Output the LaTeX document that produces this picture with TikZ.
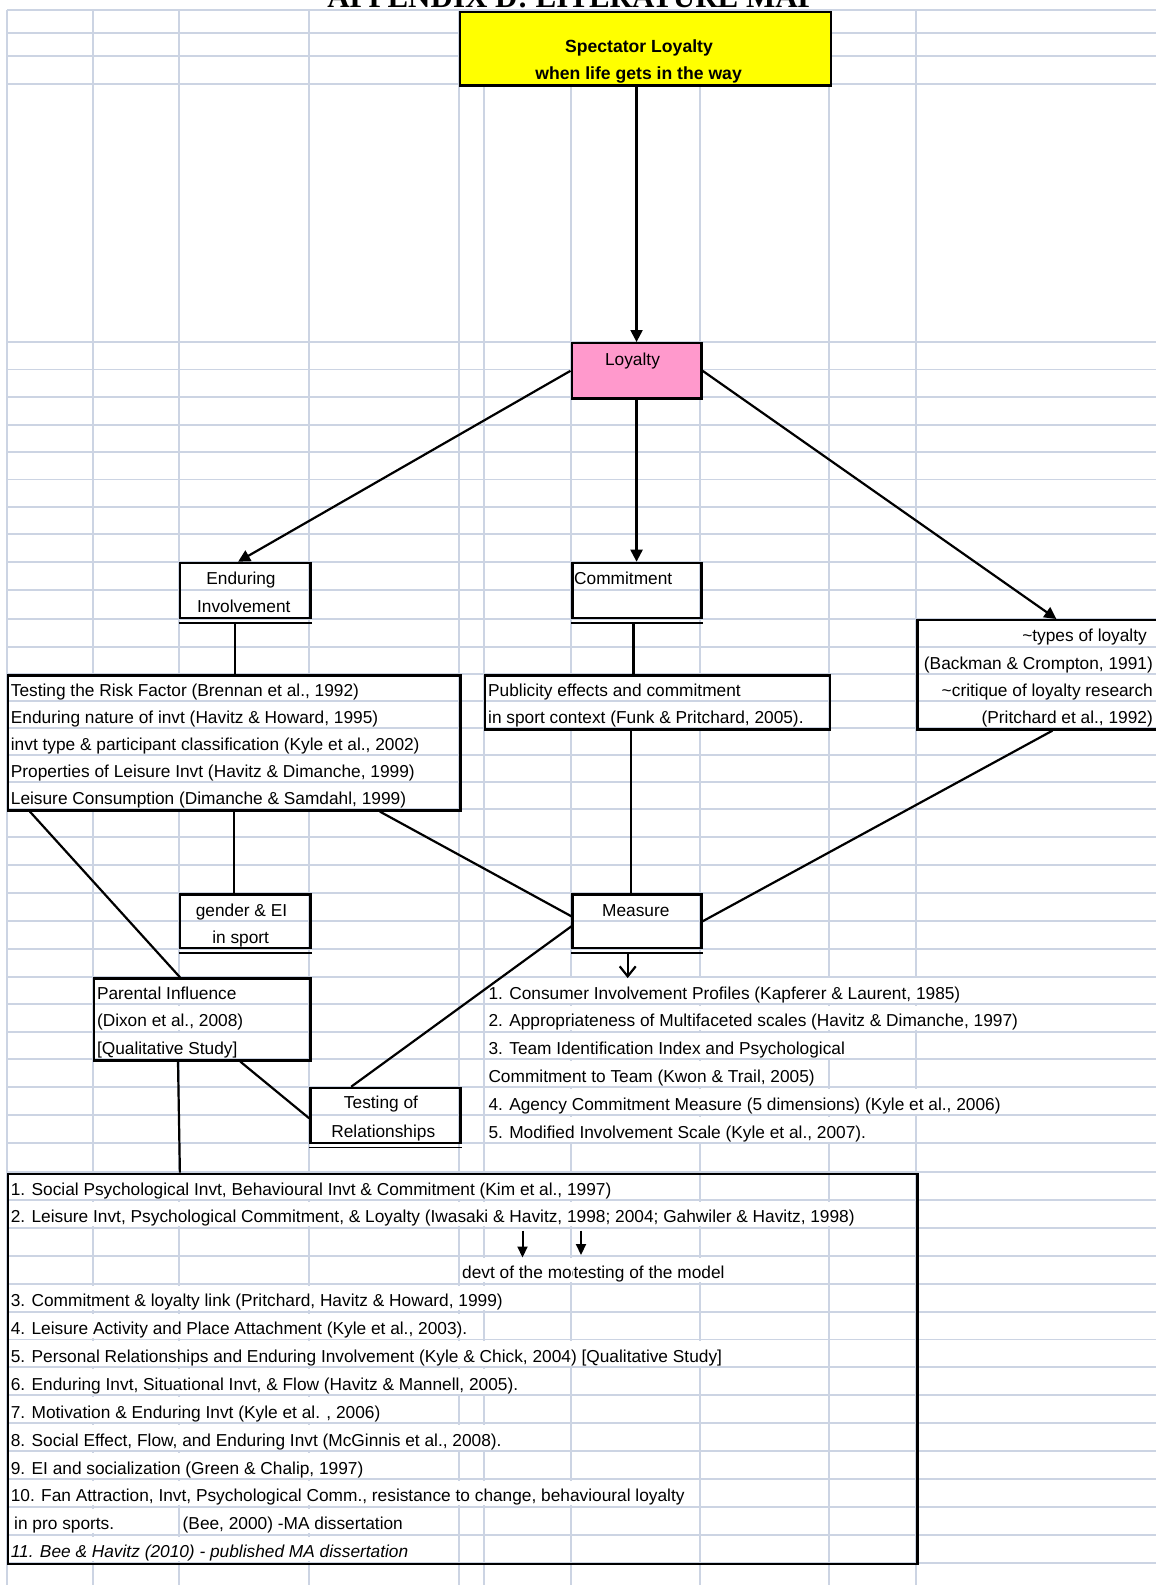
\documentclass[tikz,border=0pt]{standalone}
\usepackage{fontspec}
\setmainfont{Liberation Sans}
\newfontfamily\titlefont{Liberation Serif}
\usetikzlibrary{arrows.meta,calc}
\definecolor{gridc}{RGB}{204,212,227}
\definecolor{ybox}{RGB}{255,255,0}
\definecolor{pbox}{RGB}{255,153,204}
\begin{document}
\begin{tikzpicture}[x=1pt,y=-1pt,
  every node/.style={font=\fontsize{17.3}{20}\selectfont},
  gridl/.style={draw=gridc,line width=1.9pt},
  cell/.style={anchor=base west,fill=white,inner xsep=1pt,inner ysep=0pt,text height=21pt,text depth=3.5pt},
  rcell/.style={anchor=base east,inner xsep=1pt,inner ysep=0pt},
  ctext/.style={anchor=base,inner sep=0pt},
  box/.style={draw,line width=2.3pt,anchor=north west,inner sep=0pt},
  ln/.style={line width=2.2pt},
  arr/.style={line width=2.2pt,-{Triangle[length=12pt,width=12pt]}},
  sarr/.style={line width=2pt,-{Triangle[length=11pt,width=10pt]}},
  oarr/.style={line width=2.2pt,-{Straight Barb[length=10pt,width=16pt,line width=2.2pt]}}]
\useasboundingbox (0,0) rectangle (1156,1585);
\clip (0,0) rectangle (1156,1585);
% vertical grid lines
\foreach \x in {7,93,178.7,309.2,459.2,484.1,571.4,700.3,828.8,916.4}
  \draw[gridl] (\x,10) -- (\x,1590);
% cell texts
\node[cell] (lb1) at (9.7,696) {Testing the Risk Factor (Brennan et al., 1992)};
\node[cell] (lb2) at (9.7,723.3) {Enduring nature of invt (Havitz \& Howard, 1995)};
\node[cell] (lb3) at (9.7,750) {invt type \& participant classification (Kyle et al., 2002)};
\node[cell] (lb4) at (9.7,777.3) {Properties of Leisure Invt (Havitz \& Dimanche, 1999)};
\node[cell] (lb5) at (9.7,804.3) {Leisure Consumption (Dimanche \& Samdahl, 1999)};
\node[cell] (pu1) at (487,696) {Publicity effects and commitment};
\node[cell] (pu2) at (487,723.3) {in sport context (Funk \& Pritchard, 2005).};
\node[rcell] (ty1) at (1148,641.7) {\textasciitilde{}types of loyalty};
\node[rcell] (ty2) at (1154,669.3) {(Backman \& Crompton, 1991)};
\node[rcell] (ty3) at (1154,696) {\textasciitilde{}critique of loyalty research};
\node[rcell] (ty4) at (1154,723.3) {(Pritchard et al., 1992)};
\node[cell] (pa1) at (95.8,999.3) {Parental Influence};
\node[cell] (pa2) at (95.8,1026.7) {(Dixon et al., 2008)};
\node[cell] (pa3) at (95.8,1054.3) {[Qualitative Study]};
\node[cell] (m1) at (487.3,999.3) {1. Consumer Involvement Profiles (Kapferer \& Laurent, 1985)};
\node[cell] (m2) at (487.3,1026.7) {2. Appropriateness of Multifaceted scales (Havitz \& Dimanche, 1997)};
\node[cell] (m3) at (487.3,1054.3) {3. Team Identification Index and Psychological};
\node[cell] (m4) at (487.3,1082) {Commitment to Team (Kwon \& Trail, 2005)};
\node[cell] (m5) at (487.3,1110) {4. Agency Commitment Measure (5 dimensions) (Kyle et al., 2006)};
\node[cell] (m6) at (487.3,1138.3) {5. Modified Involvement Scale (Kyle et al., 2007).};
\node[cell] (b1) at (9.6,1195) {1. Social Psychological Invt, Behavioural Invt \& Commitment (Kim et al., 1997)};
\node[cell] (b2) at (9.6,1222.9) {2. Leisure Invt, Psychological Commitment, \& Loyalty (Iwasaki \& Havitz, 1998; 2004; Gahwiler \& Havitz, 1998)};
\begin{scope}
  \clip (455,1250) rectangle (572.3,1290);
  \node[cell] (dv) at (461,1278.7) {devt of the model};
\end{scope}
\node[cell] (tm) at (572.3,1278.7) {testing of the model};
\node[cell] (b3) at (9.6,1306.6) {3. Commitment \& loyalty link (Pritchard, Havitz \& Howard, 1999)};
\node[cell] (b4) at (9.6,1334.5) {4. Leisure Activity and Place Attachment (Kyle et al., 2003).};
\node[cell] (b5) at (9.6,1362.4) {5. Personal Relationships and Enduring Involvement (Kyle \& Chick, 2004) [Qualitative Study]};
\node[cell] (b6) at (9.6,1390.3) {6. Enduring Invt, Situational Invt, \& Flow (Havitz \& Mannell, 2005).};
\node[cell] (b7) at (9.6,1418.2) {7. Motivation \& Enduring Invt (Kyle et al. , 2006)};
\node[cell] (b8) at (9.6,1446.1) {8. Social Effect, Flow, and Enduring Invt (McGinnis et al., 2008).};
\node[cell] (b9) at (9.6,1474) {9. EI and socialization (Green \& Chalip, 1997)};
\node[cell] (b10) at (9.6,1501.9) {10. Fan Attraction, Invt, Psychological Comm., resistance to change, behavioural loyalty};
\node[cell] (b11a) at (13,1529.8) {in pro sports.};
\node[cell] (b11b) at (181.5,1529.8) {(Bee, 2000) -MA dissertation};
\node[cell,font=\fontsize{17.3}{20}\selectfont\itshape] (b12) at (9.6,1557.7) {11. Bee \& Havitz (2010) - published MA dissertation};
% horizontal grid lines
\foreach \y in {10,32.7,55.7,84.3,342,369.5,397.3,424.7,452.1,479.5,506.9,534.3,561.7,590.3,619,646.7,674.3,701,728.3,755,782.3,809.3,837,865,893.3,921.3,949.3,977.3,1004.3,1031.7,1059.3,1087,1115,1143.3,1172.2,1200,1227.9,1255.8,1283.7,1311.6,1339.5,1367.4,1395.3,1423.2,1451.1,1479,1506.9,1534.8,1562.7}
  \draw[gridl] (7,\y) -- (1160,\y);
% boxes
\node[box,fill=ybox,minimum width=371pt,minimum height=73.8pt] (Y) at (458.5,10.5) {};
\node[box,fill=pbox,minimum width=129.8pt,minimum height=55.3pt] (L) at (570.5,342) {};
\node[box,minimum width=130.5pt,minimum height=55.3pt] (E) at (178.7,561.7) {};
\node[box,minimum width=128.9pt,minimum height=55.3pt] (C) at (571.4,561.7) {};
\node[box,minimum width=245pt,minimum height=109.3pt] (T) at (916.4,619) {};
\node[box,minimum width=452.3pt,minimum height=135pt] (LB) at (6.9,674.3) {};
\node[box,minimum width=344.7pt,minimum height=54pt] (P) at (484.1,674.3) {};
\node[box,minimum width=130.5pt,minimum height=53.7pt] (G) at (178.7,893.3) {};
\node[box,minimum width=128.9pt,minimum height=53.7pt] (M) at (571.4,893.3) {};
\node[box,minimum width=216.2pt,minimum height=82pt] (PI) at (93,977.3) {};
\node[box,minimum width=150pt,minimum height=55pt] (TR) at (309.2,1086.7) {};
\node[box,minimum width=909.5pt,minimum height=390.2pt] (BB) at (6.9,1172.5) {};
\foreach \n in {E,C,G,M,TR}
  \draw[line width=1.8pt] ($(\n.south west)+(0,3.4)$) -- ($(\n.south east)+(0,3.4)$);
% box texts
\node[ctext,font=\fontsize{17.6}{20}\selectfont\bfseries] (y1) at (639,52.5) {Spectator Loyalty};
\node[ctext,font=\fontsize{17.6}{20}\selectfont\bfseries] (y2) at (638.6,79.3) {when life gets in the way};
\node[ctext] (l1) at (632.5,365.3) {Loyalty};
\node[ctext] (e1t) at (241,584.3) {Enduring};
\node[ctext] (e2t) at (243.8,612.7) {Involvement};
\node[anchor=base west,inner sep=0pt] (c1t) at (574,584.3) {Commitment};
\node[ctext] (g1t) at (241.5,916.7) {gender \& EI};
\node[ctext] (g2t) at (240.7,943.3) {in sport};
\node[ctext] (mt) at (635.8,916) {Measure};
\node[ctext] (t1t) at (381,1108.7) {Testing of};
\node[ctext] (t2t) at (383.3,1137.7) {Relationships};
% connectors
\draw[arr] (Y.south -| L.north) -- (L.north);
\draw[arr] (L.west) -- ($(E.north)+(-7,0)$);
\draw[arr] (L.south) -- (L.south |- C.north);
\draw[arr] (L.east) -- ($(T.north west)+(140,0)$);
\coordinate (e1) at ($(E.south)+(-10.5,3)$);
\draw[ln] (e1) -- (e1 |- LB.north);
\coordinate (c1) at ($(C.south)+(-3.5,3)$);
\draw[ln] (c1) -- (c1 |- P.north);
\coordinate (p1) at ($(P.south west)+(147.1,0)$);
\draw[ln] (p1) -- (p1 |- M.north);
\draw[ln] ($(T.south west)+(136.1,0)$) -- (M.east);
\draw[ln] ($(LB.south west)+(373,0)$) -- ($(M.north west)+(0,23)$);
\draw[ln] ($(TR.north west)+(42,0)$) -- ($(M.north west)+(0,33)$);
\coordinate (g1) at ($(G.north)+(-11,0)$);
\draw[ln] (g1 |- LB.south) -- (g1);
\draw[ln] ($(LB.south west)+(23,0)$) -- ($(PI.north west)+(87,0)$);
\draw[ln] ($(PI.south west)+(147.3,0)$) -- ($(TR.north west)+(0,31.6)$);
\draw[ln] ($(PI.south west)+(85,0)$) -- ($(BB.north west)+(173,0)$);
\coordinate (ma) at ($(M.south)+(-9.3,3)$);
\draw[oarr] (ma) -- (ma |- m1.north);
\coordinate (a1) at (522.5,1230.5);
\draw[sarr] (a1) -- (a1 |- dv.north);
\coordinate (a2) at (581,1230.5);
\coordinate (a2e) at ($(a2 |- tm.north)+(0,-2.5)$);
\draw[sarr] (a2) -- (a2e);
% title (cut off at the top)
\node[font=\titlefont\bfseries\fontsize{31}{31}\selectfont,anchor=base,inner sep=0pt] (title) at (572,7.5) {APPENDIX D: LITERATURE MAP};
\end{tikzpicture}
\end{document}
